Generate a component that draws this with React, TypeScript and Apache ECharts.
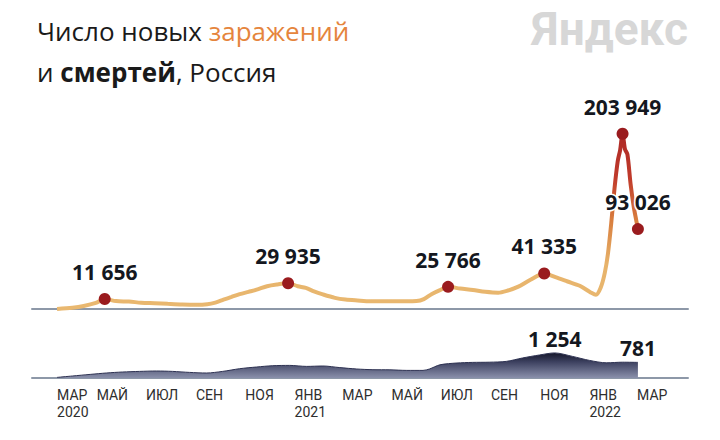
import React, { useEffect, useRef } from 'react';
import * as echarts from 'echarts';

const caseDates = [
  '2020-03-13', '2020-04-01', '2020-04-15', '2020-04-30', '2020-05-11', '2020-05-25', '2020-06-10', '2020-06-25',
  '2020-07-12', '2020-07-28', '2020-08-15', '2020-09-01', '2020-09-15', '2020-09-25', '2020-10-05', '2020-10-15',
  '2020-10-25', '2020-11-05', '2020-11-15', '2020-11-28', '2020-12-10', '2020-12-24', '2021-01-05', '2021-01-15',
  '2021-01-25', '2021-02-05', '2021-02-20', '2021-03-05', '2021-03-20', '2021-04-05', '2021-04-25', '2021-05-15',
  '2021-06-01', '2021-06-10', '2021-06-20', '2021-06-30', '2021-07-10', '2021-07-25', '2021-08-10', '2021-08-25',
  '2021-09-10', '2021-09-22', '2021-10-05', '2021-10-20', '2021-11-06', '2021-11-20', '2021-12-05', '2021-12-20',
  '2022-01-03', '2022-01-09', '2022-01-15', '2022-01-20', '2022-01-24', '2022-01-28', '2022-02-01', '2022-02-05',
  '2022-02-08', '2022-02-11', '2022-02-14', '2022-02-17', '2022-02-21', '2022-02-25', '2022-02-28', '2022-03-02'
];
const caseValues = [
  100, 1500, 3500, 7100, 11656, 9200, 8700, 7300,
  6700, 6000, 5300, 5000, 5600, 7500, 10800, 14000,
  17300, 20000, 22500, 26500, 28500, 29935, 26500, 24500,
  20500, 17000, 13000, 11000, 9900, 9000, 8900, 9000,
  9300, 11500, 17500, 22000, 25766, 23800, 22000, 20000,
  19000, 21500, 26000, 34000, 41335, 37000, 32000, 27000,
  19000, 16500, 25000, 42000, 65000, 100000, 140000, 172000,
  185000, 203949, 186000, 180000, 145000, 118000, 103000, 93026
];

const deathDates = [
  '2020-03-13', '2020-04-01', '2020-04-23', '2020-05-13', '2020-06-02', '2020-06-23', '2020-07-14', '2020-08-03',
  '2020-08-24', '2020-09-14', '2020-10-04', '2020-10-25', '2020-11-15', '2020-12-05', '2020-12-26', '2021-01-16',
  '2021-02-05', '2021-02-26', '2021-03-19', '2021-04-08', '2021-04-29', '2021-05-20', '2021-06-09', '2021-06-17',
  '2021-06-30', '2021-07-21', '2021-08-09', '2021-08-30', '2021-09-20', '2021-10-10', '2021-10-31', '2021-11-19',
  '2021-12-11', '2022-01-01', '2022-01-22', '2022-02-11', '2022-03-02'
];
const deathValues = [
  30, 100, 180, 250, 300, 330, 350, 330,
  280, 250, 330, 465, 550, 615, 630, 580,
  600, 520, 450, 415, 410, 380, 380, 450,
  660, 750, 780, 790, 830, 1000, 1150, 1254,
  1080, 880, 760, 790, 781
];

const caseMarkDates = ['2020-05-11', '2020-12-24', '2021-07-10', '2021-11-06', '2022-02-11', '2022-03-02'];
const caseMarkValues = [11656, 29935, 25766, 41335, 203949, 93026];
const deathMarkDates = ['2021-11-19', '2022-03-02'];
const deathMarkValues = [1254, 781];

const tickDates = [
  '2020-03-13', '2020-05-01', '2020-07-01', '2020-09-01', '2020-11-01', '2021-01-01', '2021-03-01',
  '2021-05-01', '2021-07-01', '2021-09-01', '2021-11-01', '2022-01-01', '2022-03-01'
];
const tickLabels = [
  'МАР\n2020', 'МАЙ', 'ИЮЛ', 'СЕН', 'НОЯ', 'ЯНВ\n2021', 'МАР',
  'МАЙ', 'ИЮЛ', 'СЕН', 'НОЯ', 'ЯНВ\n2022', 'МАР'
];

const ts = (s: string) => {
  const [y, m, d] = s.split('-').map(Number);
  return Date.UTC(y, m - 1, d);
};
const fmt = (v: number) => String(v).replace(/\B(?=(\d{3})+(?!\d))/g, ' ');

export default function App() {
  const ref = useRef<HTMLDivElement>(null);
  useEffect(() => {
    document.body.style.margin = '0';
    const chart = echarts.init(ref.current!, null, { renderer: 'svg' });
    const tickTs = tickDates.map(ts);
    const xMin = ts('2020-02-11');
    const xMax = ts('2022-05-03');
    const baseX = {
      type: 'value',
      min: xMin,
      max: xMax,
      axisLine: { show: true, onZero: false, lineStyle: { color: '#8d98a8', width: 2 } },
      axisTick: { show: false },
      splitLine: { show: false },
    };
    const labelStyle = {
      fontSize: 21,
      fontWeight: 'bold',
      color: '#141720',
      fontFamily: 'Open Sans',
      textBorderColor: '#ffffff',
      textBorderWidth: 3,
      lineHeight: 22,
    };
    const titleRich = {
      a: { fontSize: 26, color: '#1a1a1a', fontFamily: 'Open Sans', fontWeight: 'normal', lineHeight: 30 },
      o: { fontSize: 26, color: '#e5853d', fontFamily: 'Open Sans', fontWeight: 'normal', lineHeight: 30 },
      b: { fontSize: 26, color: '#1a1a1a', fontFamily: 'Open Sans', fontWeight: 'bold', lineHeight: 30 },
    };
    chart.setOption({
      animation: false,
      backgroundColor: '#ffffff',
      title: [
        {
          text: '{a|Число новых }{o|заражений}',
          left: 32,
          top: 11,
          textStyle: { fontWeight: 'normal', rich: titleRich },
        },
        {
          text: '{a|и }{b|смертей}{a|, Россия}',
          left: 32,
          top: 52,
          textStyle: { fontWeight: 'normal', rich: titleRich },
        },
      ],
      graphic: [
        {
          type: 'text',
          right: 32,
          top: 6,
          style: {
            text: 'Яндекс',
            fontSize: 46,
            fontWeight: 'bold',
            fontFamily: 'Roboto',
            fill: '#d7d7d7',
          },
        },
      ],
      grid: [
        { left: 32, right: 32, top: 120, height: 189 },
        { left: 32, right: 32, top: 348, height: 30 },
      ],
      xAxis: [
        { ...baseX, gridIndex: 0, axisLabel: { show: false } },
        {
          ...baseX,
          gridIndex: 1,
          axisLabel: {
            show: true,
            customValues: tickTs,
            formatter: (v: number) => {
              const i = tickTs.indexOf(v);
              return i >= 0 ? tickLabels[i] : '';
            },
            align: 'left',
            fontFamily: 'Roboto',
            fontSize: 14,
            lineHeight: 16.5,
            color: '#2e2e2e',
            margin: 9,
          },
        },
      ],
      yAxis: [
        { type: 'value', gridIndex: 0, min: 0, max: 220000, show: false },
        { type: 'value', gridIndex: 1, min: 0, max: 1500, show: false },
      ],
      visualMap: [
        {
          show: false,
          type: 'continuous',
          seriesIndex: 0,
          dimension: 1,
          min: 0,
          max: 204000,
          inRange: { color: ['#e9b870', '#e7b36b', '#d9803f', '#c03a2b', '#ad2a26'] },
        },
      ],
      series: [
        {
          type: 'line',
          xAxisIndex: 0,
          yAxisIndex: 0,
          data: caseDates.map((d, i) => [ts(d), caseValues[i]]),
          showSymbol: false,
          smooth: 0.3,
          lineStyle: { width: 4 },
          z: 2,
        },
        {
          type: 'scatter',
          xAxisIndex: 0,
          yAxisIndex: 0,
          data: caseMarkDates.map((d, i) => [ts(d), caseMarkValues[i]]),
          symbolSize: 12,
          itemStyle: { color: '#9a1b1e', opacity: 1 },
          label: {
            show: true,
            position: 'top',
            distance: 10,
            formatter: (p: any) => fmt(p.value[1]),
            ...labelStyle,
          },
          z: 5,
        },
        {
          type: 'line',
          xAxisIndex: 1,
          yAxisIndex: 1,
          data: deathDates.map((d, i) => [ts(d), deathValues[i]]),
          showSymbol: false,
          smooth: 0.3,
          lineStyle: { width: 1, color: '#2e3252' },
          areaStyle: {
            opacity: 1,
            color: new echarts.graphic.LinearGradient(0, 0, 0, 1, [
              { offset: 0, color: '#15172a' },
              { offset: 0.35, color: '#3c405f' },
              { offset: 1, color: '#8a90ab' },
            ]),
          },
          z: 2,
        },
        {
          type: 'scatter',
          xAxisIndex: 1,
          yAxisIndex: 1,
          data: deathMarkDates.map((d, i) => [ts(d), deathMarkValues[i]]),
          symbolSize: 0,
          itemStyle: { color: '#141720', opacity: 1 },
          label: {
            show: true,
            position: 'top',
            distance: 3,
            formatter: (p: any) => fmt(p.value[1]),
            ...labelStyle,
            textBorderWidth: 0,
          },
          z: 5,
        },
      ],
    });
    return () => chart.dispose();
  }, []);
  return <div ref={ref} style={{ width: 720, height: 440 }} />;
}
